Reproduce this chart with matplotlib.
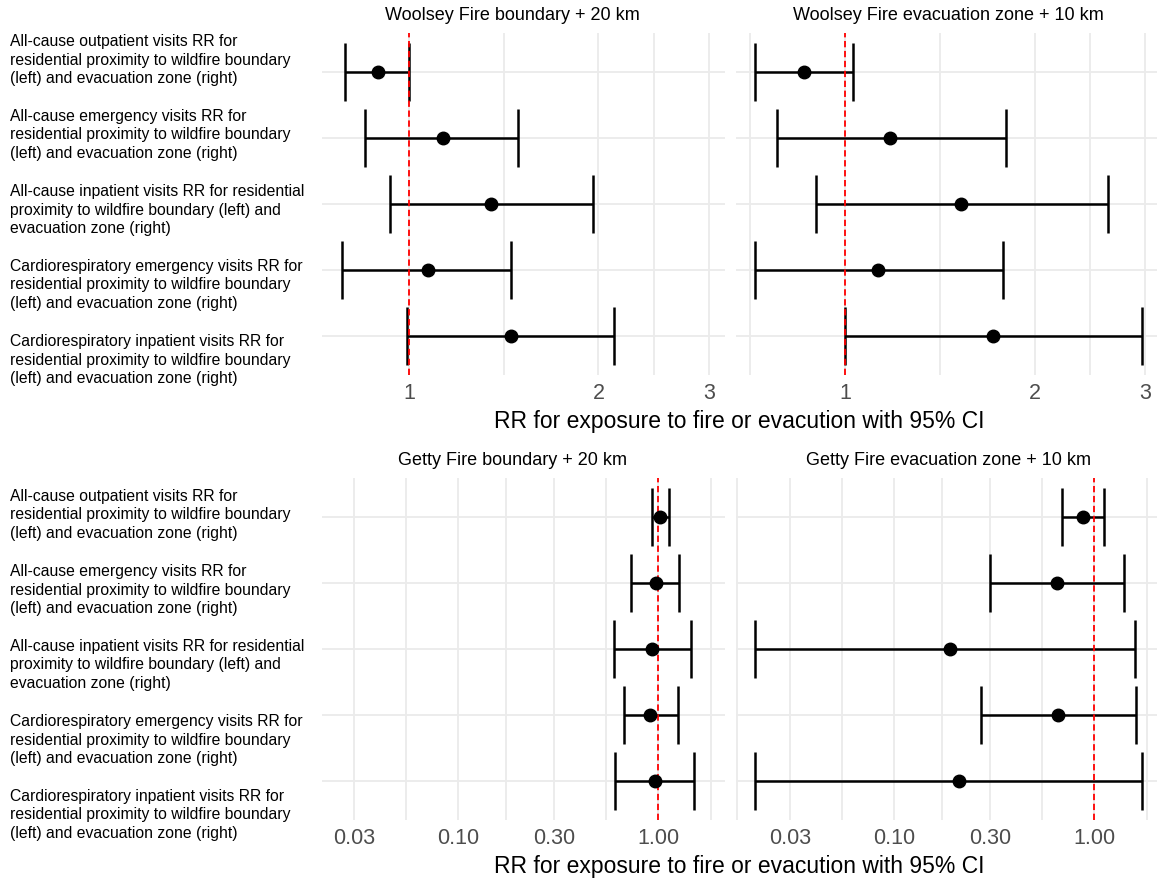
import numpy as np
import matplotlib

matplotlib.use("Agg")
import matplotlib.pyplot as plt
from matplotlib.ticker import FixedLocator, NullFormatter

plt.rcParams["font.family"] = ["Liberation Sans", "DejaVu Sans"]

# outcome labels (same for both fires)
outcomes = [
    "All-cause outpatient visits RR for\nresidential proximity to wildfire boundary\n(left) and evacuation zone (right)",
    "All-cause emergency visits RR for\nresidential proximity to wildfire boundary\n(left) and evacuation zone (right)",
    "All-cause inpatient visits RR for residential\nproximity to wildfire boundary (left) and\nevacuation zone (right)",
    "Cardiorespiratory emergency visits RR for\nresidential proximity to wildfire boundary\n(left) and evacuation zone (right)",
    "Cardiorespiratory inpatient visits RR for\nresidential proximity to wildfire boundary\n(left) and evacuation zone (right)",
]

# Woolsey fire
woolsey_boundary_rr = [0.89, 1.13, 1.35, 1.07, 1.45]
woolsey_boundary_lo = [0.79, 0.85, 0.93, 0.78, 0.99]
woolsey_boundary_hi = [1.00, 1.49, 1.96, 1.45, 2.12]
woolsey_evac_rr = [0.86, 1.18, 1.53, 1.13, 1.72]
woolsey_evac_lo = [0.72, 0.78, 0.90, 0.72, 1.00]
woolsey_evac_hi = [1.03, 1.80, 2.62, 1.78, 2.96]

# Getty fire
getty_boundary_rr = [1.02, 0.97, 0.93, 0.91, 0.96]
getty_boundary_lo = [0.93, 0.73, 0.60, 0.67, 0.61]
getty_boundary_hi = [1.13, 1.27, 1.45, 1.26, 1.50]
getty_evac_rr = [0.88, 0.65, 0.19, 0.66, 0.21]
getty_evac_lo = [0.69, 0.30, 0.020, 0.27, 0.020]
getty_evac_hi = [1.12, 1.41, 1.59, 1.61, 1.73]

titles = [
    "Woolsey Fire boundary + 20 km",
    "Woolsey Fire evacuation zone + 10 km",
    "Getty Fire boundary + 20 km",
    "Getty Fire evacuation zone + 10 km",
]
top_ticks = [1, 2, 3]
top_ticklabels = ["1", "2", "3"]
bottom_ticks = [0.03, 0.1, 0.3, 1.0]
bottom_ticklabels = ["0.03", "0.10", "0.30", "1.00"]
xlabel = "RR for exposure to fire or evacution with 95% CI"

W, H = 1158, 882
GRID = "#EBEBEB"


def px_axes(fig, x0, y0, x1, y1):
    return fig.add_axes([x0 / W, 1 - y1 / H, (x1 - x0) / W, (y1 - y0) / H])


def forest(ax, rr, lo, hi, xlim, ticks, ticklabels):
    rr, lo, hi = np.array(rr), np.array(lo), np.array(hi)
    y = np.arange(len(rr))
    ax.set_xscale("log")
    ax.set_xlim(*xlim)
    ax.set_ylim(len(rr) - 0.4, -0.6)

    # minor grid halfway between breaks (in log space), like ggplot
    major = np.array(ticks)
    ext = np.concatenate([[major[0] ** 2 / major[1]], major, [major[-1] ** 2 / major[-2]]])
    minor = np.sqrt(ext[:-1] * ext[1:])
    ax.xaxis.set_major_locator(FixedLocator(ticks))
    ax.set_xticklabels(ticklabels)
    ax.xaxis.set_minor_locator(FixedLocator(minor))
    ax.xaxis.set_minor_formatter(NullFormatter())
    ax.set_yticks(y)
    ax.set_yticklabels([])
    ax.grid(True, which="both", axis="x", color=GRID, lw=1.3)
    ax.grid(True, which="major", axis="y", color=GRID, lw=1.3)
    ax.set_axisbelow(True)
    for s in ax.spines.values():
        s.set_visible(False)
    ax.tick_params(axis="both", which="both", length=0)
    ax.tick_params(axis="x", labelsize=15.5, labelcolor="#4D4D4D", pad=6)

    ax.errorbar(rr, y, xerr=[rr - lo, hi - rr], fmt="none", ecolor="black",
                elinewidth=1.8, capsize=21, capthick=1.8, zorder=2)
    ax.axvline(1, color="red", lw=1.3, ls=(0, (3.5, 2)), zorder=3)
    ax.plot(rr, y, "o", color="black", ms=9, zorder=4)


fig = plt.figure(figsize=(W / 100, H / 100), dpi=100)

ax1 = px_axes(fig, 322, 33, 725, 375)
forest(ax1, woolsey_boundary_rr, woolsey_boundary_lo, woolsey_boundary_hi,
       (0.726, 3.18), top_ticks, top_ticklabels)
ax2 = px_axes(fig, 736, 33, 1157, 375)
forest(ax2, woolsey_evac_rr, woolsey_evac_lo, woolsey_evac_hi,
       (0.671, 3.13), top_ticks, top_ticklabels)
ax3 = px_axes(fig, 322, 478, 725, 820)
forest(ax3, getty_boundary_rr, getty_boundary_lo, getty_boundary_hi,
       (0.0208, 2.155), bottom_ticks, bottom_ticklabels)
ax4 = px_axes(fig, 736, 478, 1157, 820)
forest(ax4, getty_evac_rr, getty_evac_lo, getty_evac_hi,
       (0.01616, 2.058), bottom_ticks, bottom_ticklabels)

# panel titles
for (x, y), t in zip([(512, 15), (948, 15), (512, 461), (948, 461)], titles):
    fig.text(x / W, 1 - y / H, t, ha="center", va="center", fontsize=13)

# x labels
for y in [421, 866]:
    fig.text(739.5 / W, 1 - y / H, xlabel, ha="center", va="center", fontsize=16.5)

# outcome labels
for start in [60, 515]:
    for i, lab in enumerate(outcomes):
        fig.text(10 / W, 1 - (start + 75 * i) / H, lab, ha="left", va="center",
                 fontsize=11.3, linespacing=1.32)

fig.savefig("out.png", dpi=100)
